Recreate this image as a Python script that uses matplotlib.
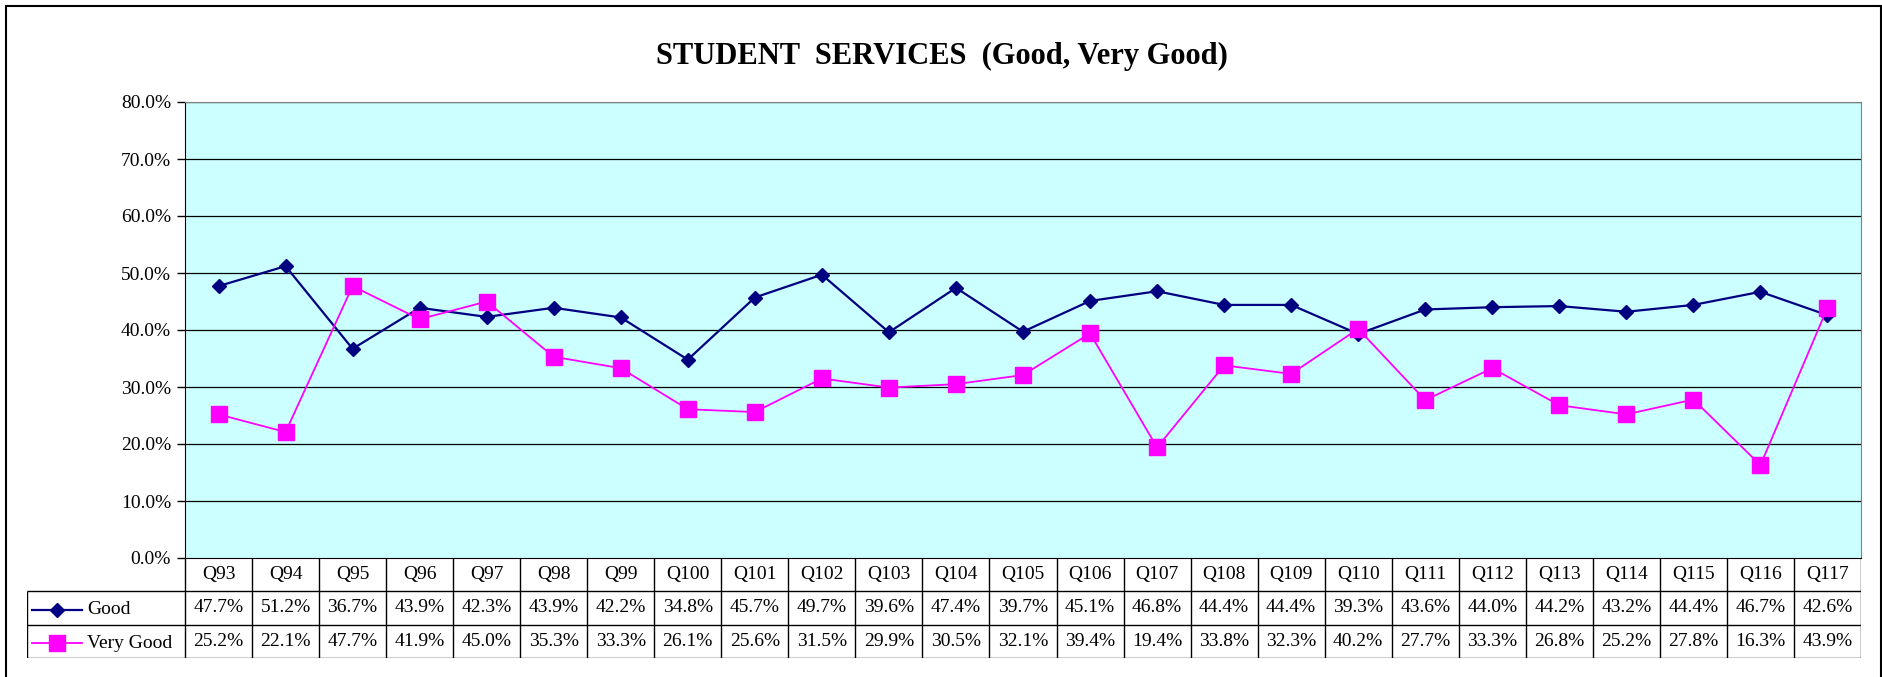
import numpy as np
import matplotlib.pyplot as plt
from matplotlib.lines import Line2D
from matplotlib.patches import Rectangle

plt.rcParams['font.family'] = ['Liberation Serif', 'DejaVu Serif']

# data
questions = ['Q93', 'Q94', 'Q95', 'Q96', 'Q97', 'Q98', 'Q99', 'Q100', 'Q101', 'Q102',
             'Q103', 'Q104', 'Q105', 'Q106', 'Q107', 'Q108', 'Q109', 'Q110', 'Q111',
             'Q112', 'Q113', 'Q114', 'Q115', 'Q116', 'Q117']
good = [47.7, 51.2, 36.7, 43.9, 42.3, 43.9, 42.2, 34.8, 45.7, 49.7, 39.6, 47.4, 39.7,
        45.1, 46.8, 44.4, 44.4, 39.3, 43.6, 44.0, 44.2, 43.2, 44.4, 46.7, 42.6]
very_good = [25.2, 22.1, 47.7, 41.9, 45.0, 35.3, 33.3, 26.1, 25.6, 31.5, 29.9, 30.5, 32.1,
             39.4, 19.4, 33.8, 32.3, 40.2, 27.7, 33.3, 26.8, 25.2, 27.8, 16.3, 43.9]
series_names = ['Good', 'Very Good']
yticks = [0, 10, 20, 30, 40, 50, 60, 70, 80]

W, H = 1883, 677
fig = plt.figure(figsize=(W / 100, H / 100), dpi=100)

def px_rect(x0, y0, x1, y1):
    return [x0 / W, 1 - y1 / H, (x1 - x0) / W, (y1 - y0) / H]

# outer chart border
fig.patches.append(Rectangle((6 / W, -0.05), (1881 - 6) / W, 1.05 - 6 / H,
                             transform=fig.transFigure, fill=False, ec='black', lw=1.5))

fig.text(0.5, 1 - 56 / H, 'STUDENT  SERVICES  (Good, Very Good)', ha='center', va='center',
         fontsize=22, fontweight='bold')

# main plot
plot_l, plot_r, plot_t, plot_b = 185, 1861, 102, 558
ax = fig.add_axes(px_rect(plot_l, plot_t, plot_r, plot_b))
ax.set_facecolor('#CCFFFF')
x = np.arange(len(questions))
ax.plot(x, good, color='#000080', lw=1.6, marker='D', ms=7, zorder=3)
ax.plot(x, very_good, color='#FF00FF', lw=1.3, marker='s', ms=11, zorder=3)
ax.set_xlim(-0.5, len(questions) - 0.5)
ax.set_ylim(0, 80)
ax.set_yticks(yticks)
ax.set_yticklabels([f'{v:.1f}%' for v in yticks], fontsize=14)
ax.set_xticks([])
for v in yticks[1:]:
    ax.axhline(v, color='black', lw=0.9, zorder=1)
for s in ['top', 'right']:
    ax.spines[s].set_color('#808080')
ax.spines['left'].set_color('black')
ax.spines['bottom'].set_color('black')
ax.tick_params(axis='y', length=6, width=1, pad=4)

# data table below the plot
tab_l, tab_t, tab_b = 27, 558, 658
cw = (plot_r - plot_l) / len(questions)
lead = (plot_l - tab_l) / cw
tax = fig.add_axes(px_rect(tab_l, tab_t, plot_r, tab_b))
tax.set_xlim(-0.5 - lead, len(questions) - 0.5)
tax.set_ylim(3, 0)
tax.axis('off')
lk = dict(color='black', lw=1, solid_capstyle='butt')
n = len(questions)
for i in range(n + 1):
    tax.plot([i - 0.5, i - 0.5], [0, 3], **lk)
for yy in [1, 2, 3]:
    tax.plot([-0.5 - lead, n - 0.5], [yy, yy], **lk)
tax.plot([-0.5 - lead, -0.5 - lead], [1, 3], **lk)
for i, q in enumerate(questions):
    tax.text(i, 0.5, q, ha='center', va='center', fontsize=14)
for r, vals in enumerate([good, very_good]):
    for i, v in enumerate(vals):
        tax.text(i, 1.5 + r, f'{v:.1f}%', ha='center', va='center', fontsize=14)

# legend keys inside the table
left = -0.5 - lead
key_x0 = left + 5 / cw
key_x1 = left + 55 / cw
key_mid = (key_x0 + key_x1) / 2
tax.add_line(Line2D([key_x0, key_mid, key_x1], [1.55] * 3, color='#000080', lw=1.6,
                    marker='D', ms=7, markevery=[1], clip_on=False))
tax.add_line(Line2D([key_x0, key_mid, key_x1], [2.55] * 3, color='#FF00FF', lw=1.3,
                    marker='s', ms=11, markevery=[1], clip_on=False))
for r, name in enumerate(series_names):
    tax.text(left + 60 / cw, 1.55 + r, name, ha='left', va='center', fontsize=14)

fig.savefig('out.png', dpi=100)
